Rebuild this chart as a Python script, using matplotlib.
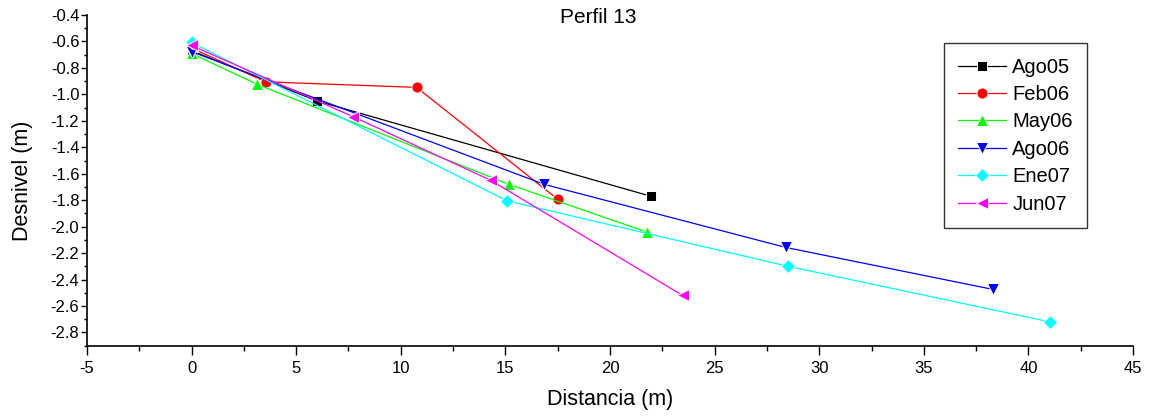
import matplotlib.pyplot as plt
from matplotlib.ticker import MultipleLocator, FormatStrFormatter

plt.rcParams["font.family"] = ["Liberation Sans", "DejaVu Sans"]
plt.rcParams["axes.unicode_minus"] = False

labels = ["Ago05", "Feb06", "May06", "Ago06", "Ene07", "Jun07"]
colors = ["black", "red", "#00ff00", "blue", "cyan", "magenta"]
markers = ["s", "o", "^", "v", "D", "<"]
msizes = [6.5, 8, 9, 9, 7.5, 9]

x_ago05 = [0, 6.0, 21.95]
y_ago05 = [-0.67, -1.05, -1.77]
x_feb06 = [0, 3.54, 10.76, 17.51]
y_feb06 = [-0.65, -0.905, -0.947, -1.794]
x_may06 = [0, 3.11, 15.17, 21.75]
y_may06 = [-0.69, -0.922, -1.68, -2.04]
x_ago06 = [0, 16.85, 28.4, 38.32]
y_ago06 = [-0.677, -1.68, -2.157, -2.475]
x_ene07 = [0, 15.09, 28.52, 41.03]
y_ene07 = [-0.607, -1.805, -2.30, -2.72]
x_jun07 = [0, 7.73, 14.31, 23.47]
y_jun07 = [-0.63, -1.169, -1.65, -2.52]

xs = [x_ago05, x_feb06, x_may06, x_ago06, x_ene07, x_jun07]
ys = [y_ago05, y_feb06, y_may06, y_ago06, y_ene07, y_jun07]

fig = plt.figure(figsize=(11.61, 4.18), dpi=100)
ax = fig.add_axes([0.0749, 0.173, 0.901, 0.791])

for x, y, lab, c, m, ms in zip(xs, ys, labels, colors, markers, msizes):
    ax.plot(x, y, color=c, marker=m, markersize=ms, linewidth=0.9, label=lab,
            markeredgecolor="white", markeredgewidth=0.7, markerfacecolor=c)

ax.set_xlim(-5, 45)
ax.set_ylim(-2.9, -0.4)
ax.xaxis.set_major_locator(MultipleLocator(5))
ax.xaxis.set_minor_locator(MultipleLocator(2.5))
ax.set_yticks([-0.4 - 0.2 * i for i in range(13)])
ax.yaxis.set_minor_locator(MultipleLocator(0.1))
ax.yaxis.set_major_formatter(FormatStrFormatter("%.1f"))
ax.spines["top"].set_visible(False)
ax.spines["right"].set_visible(False)
ax.spines["left"].set_linewidth(1.2)
ax.spines["bottom"].set_linewidth(1.2)
ax.tick_params(axis="x", which="major", length=6.5, width=1, labelsize=12, pad=4.5)
ax.tick_params(axis="x", which="minor", length=3.6, width=1)
ax.tick_params(axis="y", which="major", length=4, width=1, labelsize=12, pad=1.5)
ax.tick_params(axis="y", which="minor", length=2.5, width=1)

ax.set_xlabel("Distancia (m)", fontsize=15.5)
ax.set_ylabel("Desnivel (m)", fontsize=15.5)
ax.xaxis.set_label_coords(0.5, -0.13)
ax.yaxis.set_label_coords(-0.052, 0.5)
ax.text(0.4885, 0.994, "Perfil 13", transform=ax.transAxes, ha="center", va="center", fontsize=15)

leg = ax.legend(loc="upper right", bbox_to_anchor=(0.956, 0.914), fontsize=14.5,
                fancybox=False, edgecolor="black", handlelength=2.4,
                labelspacing=0.42, borderpad=0.7, handletextpad=0.3,
                borderaxespad=0)
leg.get_frame().set_linewidth(1)

fig.savefig("out.png", dpi=100)
